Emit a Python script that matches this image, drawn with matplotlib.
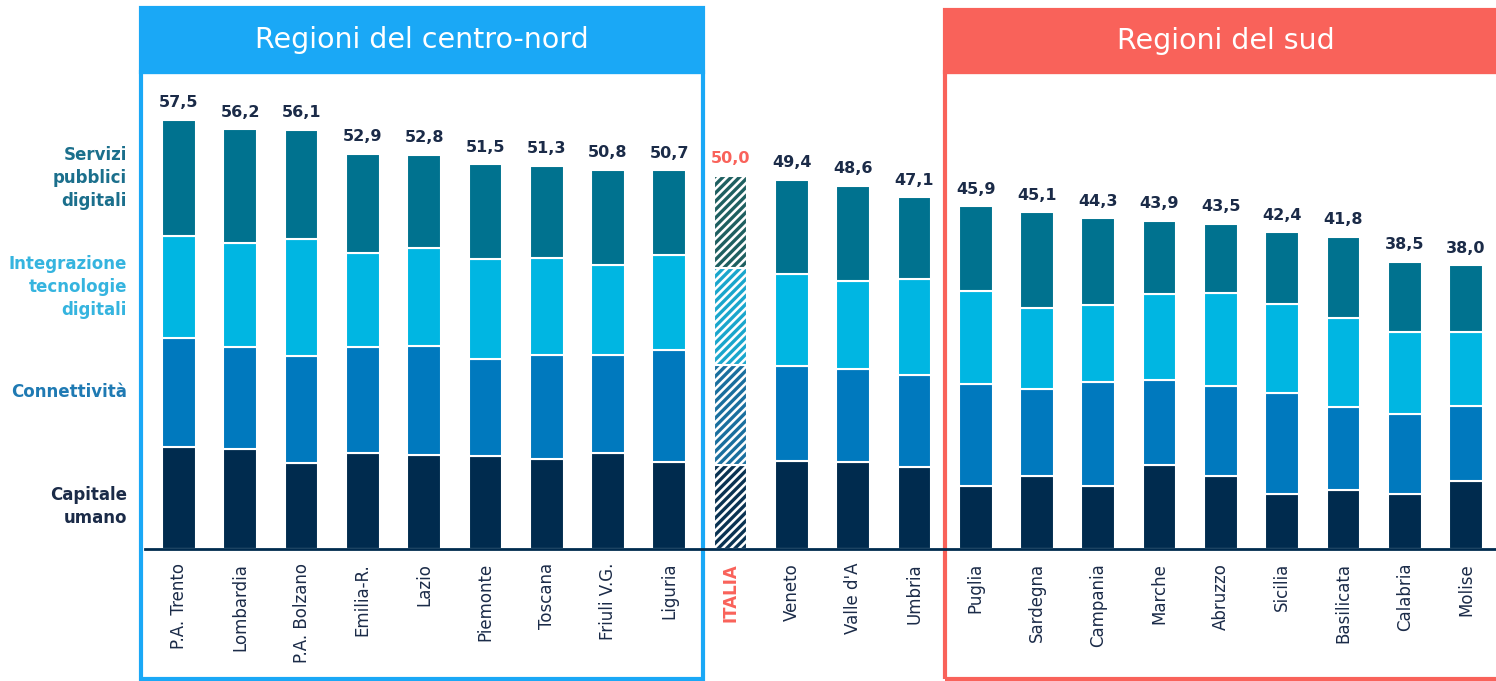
"""
Indice di digitalizzazione per regione: barre impilate per le quattro
dimensioni (capitale umano, connettivita, integrazione tecnologie, servizi).
"""

import matplotlib

matplotlib.use("Agg")
import matplotlib.patches as mpatches  # noqa: E402
import matplotlib.pyplot as plt  # noqa: E402
import matplotlib.transforms as mtransforms  # noqa: E402
import numpy as np  # noqa: E402

regions = [
    "P.A. Trento", "Lombardia", "P.A. Bolzano", "Emilia-R.", "Lazio",
    "Piemonte", "Toscana", "Friuli V.G.", "Liguria", "ITALIA", "Veneto",
    "Valle d'A", "Umbria", "Puglia", "Sardegna", "Campania", "Marche",
    "Abruzzo", "Sicilia", "Basilicata", "Calabria", "Molise",
]
totals = [57.5, 56.2, 56.1, 52.9, 52.8, 51.5, 51.3, 50.8, 50.7, 50.0, 49.4,
          48.6, 47.1, 45.9, 45.1, 44.3, 43.9, 43.5, 42.4, 41.8, 38.5, 38.0]
capitale_umano = [13.7, 13.4, 11.5, 12.9, 12.6, 12.4, 12.1, 12.8, 11.7, 11.3, 11.8,
                  11.7, 11.0, 8.4, 9.8, 8.4, 11.2, 9.8, 7.3, 7.9, 7.3, 9.1]
connettivita = [14.6, 13.6, 14.3, 14.2, 14.6, 13.0, 13.9, 13.2, 15.0, 13.3, 12.7,
                12.4, 12.3, 13.7, 11.6, 13.9, 11.5, 12.0, 13.6, 11.1, 10.8, 10.0]
integrazione = [13.6, 14.0, 15.7, 12.6, 13.1, 13.4, 13.0, 12.0, 12.7, 13.1, 12.3,
                11.8, 12.8, 12.5, 10.9, 10.4, 11.4, 12.5, 11.9, 12.0, 10.9, 10.0]
servizi = [15.6, 15.2, 14.6, 13.2, 12.5, 12.7, 12.3, 12.8, 11.3, 12.3, 12.6,
           12.7, 11.0, 11.3, 12.8, 11.6, 9.8, 9.2, 9.6, 10.8, 9.5, 8.9]

series_names = ["Capitale\numano", "Connettività",
                "Integrazione\ntecnologie\ndigitali", "Servizi\npubblici\ndigitali"]
series_values = [capitale_umano, connettivita, integrazione, servizi]
italia_name = "ITALIA"
group_names = ["Regioni del centro-nord", "Regioni del sud"]

NAVY = "#002b4e"
TEXT = "#1b2b48"
bar_colors = ["#002b4e", "#0079be", "#00b6e2", "#00728f"]
label_colors = ["#1b2b48", "#1f7ab3", "#35b4df", "#1b6f8c"]
hatch_colors = ["#0a3352", "#1a6f9e", "#1aa6cc", "#1e5f60"]
BLUE_BOX = "#1aa8f6"
RED_BOX = "#f9625a"

W, H = 1496, 681
plt.rcParams["font.family"] = "DejaVu Sans"
plt.rcParams["hatch.linewidth"] = 2.4

fig = plt.figure(figsize=(W / 100, H / 100), dpi=100)
ax = fig.add_axes([145 / W, (H - 549) / H, (W - 145) / W, 448 / H])

x = np.arange(len(regions))
is_italia = np.array([r == italia_name for r in regions])
bottom = np.zeros(len(regions))
for vals, col, hcol in zip(series_values, bar_colors, hatch_colors):
    vals = np.array(vals)
    ax.bar(x[~is_italia], vals[~is_italia], bottom=bottom[~is_italia], width=0.55,
           color=col, edgecolor="white", linewidth=1.5)
    ax.bar(x[is_italia], vals[is_italia], bottom=bottom[is_italia], width=0.55,
           facecolor="white", edgecolor=hcol, linewidth=0, hatch="////")
    ax.bar(x[is_italia], vals[is_italia], bottom=bottom[is_italia], width=0.55,
           fill=False, edgecolor="white", linewidth=1.5)
    bottom += vals

for xi, tot, it in zip(x, totals, is_italia):
    ax.annotate(f"{tot:.1f}".replace(".", ","), (xi, tot), xytext=(0, 7),
                textcoords="offset points", ha="center", va="bottom",
                fontsize=11.5, fontweight="bold", color=RED_BOX if it else TEXT)

ax.set_xlim(-0.555, 21.49)
ax.set_ylim(0, 60)
ax.set_yticks([])
ax.set_xticks(x)
ax.set_xticklabels(regions, rotation=90, fontsize=12, color=TEXT)
ax.tick_params(axis="x", length=0, pad=10)
for lbl, it in zip(ax.get_xticklabels(), is_italia):
    if it:
        lbl.set_color(RED_BOX)
        lbl.set_fontweight("bold")
for side in ["top", "left", "right"]:
    ax.spines[side].set_visible(False)
ax.spines["bottom"].set_color(NAVY)
ax.spines["bottom"].set_linewidth(2)

# series names to the left, centred on the segments of the first bar
first = np.cumsum([0] + [v[0] for v in series_values])
offsets = [-6, 0, 0, 0]
for name, lo, hi, col, dy in zip(series_names, first[:-1], first[1:],
                                 label_colors, offsets):
    ax.annotate(name, (-0.555, (lo + hi) / 2), xytext=(-13, dy),
                textcoords="offset points", ha="right", va="center",
                fontsize=12, fontweight="bold", color=col, linespacing=1.35,
                annotation_clip=False)

# group boxes: x in data units, y in figure fraction
trans = mtransforms.blended_transform_factory(ax.transData, fig.transFigure)
boxes = [(-0.62, 8.55, 8, BLUE_BOX), (12.5, 21.65, 10, RED_BOX)]
for (x0, x1, ytop, col), name in zip(boxes, group_names):
    y_top = 1 - ytop / H
    y_head = 1 - 72 / H
    y_bot = 1 - 679 / H
    x1_draw = x1 if x1 < 21 else 22.5
    ax.add_patch(mpatches.Rectangle((x0, y_head), x1_draw - x0, y_top - y_head,
                                    transform=trans, facecolor=col,
                                    edgecolor=col, linewidth=3, clip_on=False))
    ax.add_patch(mpatches.Rectangle((x0, y_bot), x1_draw - x0, y_head - y_bot,
                                    transform=trans, facecolor="none",
                                    edgecolor=col, linewidth=3, clip_on=False))
    ax.text((x0 + x1) / 2, (y_top + y_head) / 2, name, transform=trans,
            ha="center", va="center", fontsize=20.5, color="white")

fig.savefig("out.png", dpi=100)
plt.close(fig)
